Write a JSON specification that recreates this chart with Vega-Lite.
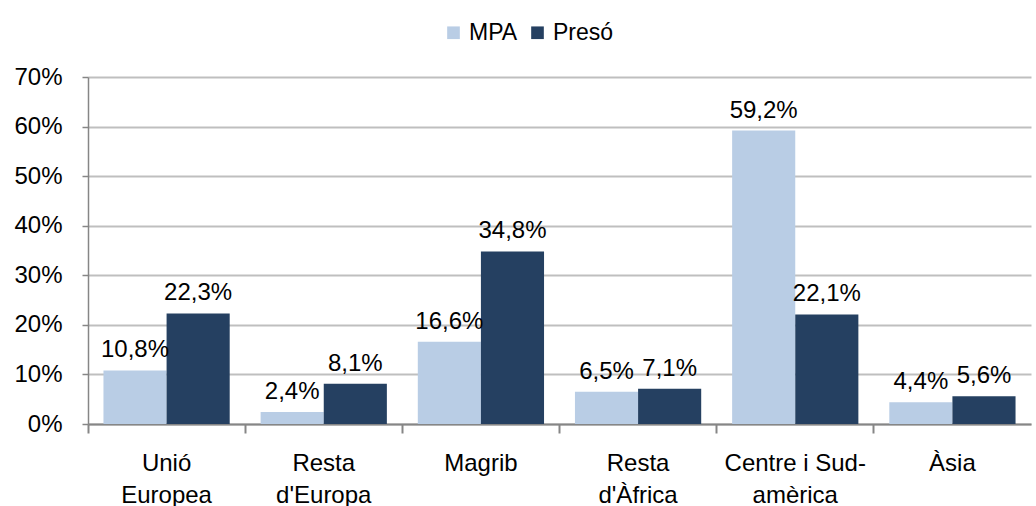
{
  "$schema": "https://vega.github.io/schema/vega-lite/v6.json",
  "width": 943,
  "height": 347,
  "autosize": {"type": "none"},
  "padding": {"left": 88, "top": 77, "right": 5, "bottom": 82},
  "config": {
    "locale": {"number": {"decimal": ",", "thousands": ".", "grouping": [3], "currency": ["", " €"]}},
    "font": "Liberation Sans",
    "view": {"stroke": null},
    "axis": {"labelFont": "Liberation Sans", "labelFontSize": 24, "labelColor": "#000000", "title": null}
  },
  "data": {
    "values": [
      {"region": "Unió|Europea", "serie": "MPA", "valor": 0.108},
      {"region": "Unió|Europea", "serie": "Presó", "valor": 0.223},
      {"region": "Resta|d'Europa", "serie": "MPA", "valor": 0.024},
      {"region": "Resta|d'Europa", "serie": "Presó", "valor": 0.081},
      {"region": "Magrib", "serie": "MPA", "valor": 0.166},
      {"region": "Magrib", "serie": "Presó", "valor": 0.348},
      {"region": "Resta|d'Àfrica", "serie": "MPA", "valor": 0.065},
      {"region": "Resta|d'Àfrica", "serie": "Presó", "valor": 0.071},
      {"region": "Centre i Sud-|amèrica", "serie": "MPA", "valor": 0.592},
      {"region": "Centre i Sud-|amèrica", "serie": "Presó", "valor": 0.221},
      {"region": "Àsia", "serie": "MPA", "valor": 0.044},
      {"region": "Àsia", "serie": "Presó", "valor": 0.056}
    ]
  },
  "encoding": {
    "xOffset": {"field": "serie", "type": "nominal", "scale": {"paddingInner": 0, "paddingOuter": 0.245}},
    "y": {
      "field": "valor", "type": "quantitative",
      "scale": {"domain": [0, 0.7], "nice": false},
      "axis": {
        "format": ".0%", "values": [0, 0.1, 0.2, 0.3, 0.4, 0.5, 0.6, 0.7],
        "domainColor": "#868686", "domainWidth": 1.5,
        "tickColor": "#868686", "tickSize": 6, "tickWidth": 1.5,
        "labelPadding": 20,
        "gridColor": "#BFBFBF", "gridWidth": 2
      }
    }
  },
  "layer": [
    {
      "mark": {"type": "bar"},
      "encoding": {
        "x": {
          "field": "region", "type": "nominal", "sort": null,
          "scale": {"paddingInner": 0, "paddingOuter": 0},
          "axis": {
            "labelExpr": "split(datum.label, '|')",
            "labelAngle": 0, "ticks": false, "labelPadding": 27,
            "labelLineHeight": 32, "labelBaseline": "top",
            "domainColor": "#868686", "domainWidth": 2, "grid": false
          }
        },
        "color": {
          "field": "serie", "type": "nominal",
          "scale": {"domain": ["MPA", "Presó"], "range": ["#B9CDE5", "#254061"]},
          "legend": {
            "orient": "none", "legendX": 354, "legendY": -56,
            "direction": "horizontal", "title": null,
            "symbolType": "square", "symbolSize": 160, "symbolStrokeWidth": 0,
            "labelFontSize": 23, "labelFont": "Liberation Sans", "labelColor": "#000000",
            "labelOffset": 4, "columnPadding": 8
          }
        }
      }
    },
    {
      "mark": {"type": "text", "baseline": "alphabetic", "dy": -13, "fontSize": 24, "font": "Liberation Sans", "color": "#000000"},
      "encoding": {
        "x": {
          "field": "region", "type": "nominal", "sort": null,
          "axis": {
            "bandPosition": 0, "labels": false, "ticks": true, "tickSize": 9,
            "tickColor": "#868686", "tickWidth": 2, "domain": false, "grid": false, "orient": "bottom"
          }
        },
        "text": {"field": "valor", "type": "quantitative", "format": ".1%"}
      }
    }
  ],
  "resolve": {"axis": {"x": "independent"}}
}
